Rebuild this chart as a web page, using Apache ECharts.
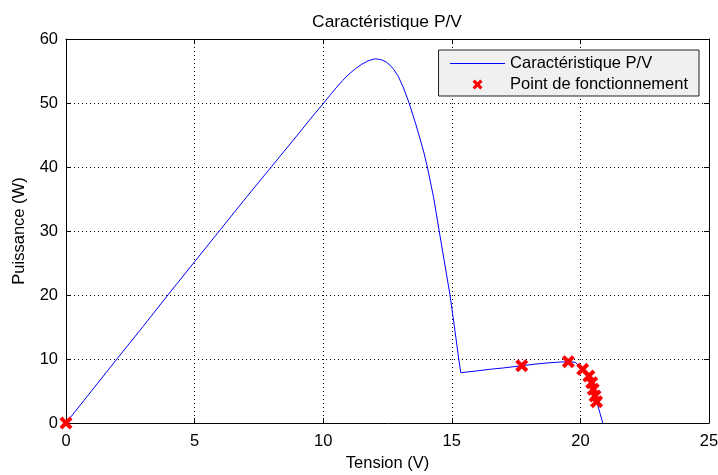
<!DOCTYPE html>
<html>
<head>
<meta charset="utf-8">
<script src="https://cdn.jsdelivr.net/npm/echarts@6/dist/echarts.min.js"></script>
<style>html,body{margin:0;padding:0;background:#fff;}#c{width:718px;height:475px;}</style>
</head>
<body>
<div id="c"></div>
<script>
// Caractéristique P/V curve
const curveV = [0,1,2,3,4,5,6,7,8,9,9.5,10,10.25,10.5,10.75,11,11.25,11.5,11.75,12,12.15,12.3,12.45,12.6,12.75,12.9,13.1,13.34,13.6,13.9,14.05,14.3,14.51,14.72,14.93,15.1,15.27,15.35,16,16.5,17,17.72,18.2,18.7,19.2,19.53,19.8,20.09,20.33,20.44,20.5,20.57,20.63,20.75,20.87];
const curveP = [0,5.05,10.1,15.1,20.2,25.2,30.2,35.2,40.1,45,47.5,49.9,51.15,52.35,53.5,54.5,55.35,56.05,56.6,56.9,56.85,56.7,56.4,55.9,55.2,54.3,52.6,50,46.7,42.5,40,35.1,30,25,20,15.1,10,7.86,8.15,8.4,8.6,8.95,9.18,9.38,9.52,9.58,9.48,8.4,7.34,6.3,5.27,4.22,3.33,1.7,0];
// Points de fonctionnement
const opV = [0,17.72,19.53,20.09,20.33,20.44,20.50,20.57,20.63];
const opP = [0,8.95,9.58,8.39,7.34,6.30,5.27,4.22,3.33];
const xTicks = {min:0, max:25, interval:5};
const yTicks = {min:0, max:60, interval:10};
const titleText = 'Caractéristique P/V';
const xName = 'Tension (V)';
const yName = 'Puissance (W)';
const seriesNames = ['Caractéristique P/V', 'Point de fonctionnement'];

const FONT = 'Liberation Sans, Arial, Helvetica, sans-serif';
const FS = 16.5;
const X_PATH = 'path://M-5,-2.8 L-2.8,-5 L5,2.8 L2.8,5 Z M2.8,-5 L5,-2.8 L-2.8,5 L-5,2.8 Z';
const BOUNDS = 'M0,0 L0.01,0.01 L0,0.01 Z M55,14 L54.99,13.99 L55,13.99 Z ';
const X_LEGEND = 'path://' + BOUNDS + 'M22.5,4.2 L24.7,2 L32.5,9.8 L30.3,12 Z M30.3,2 L32.5,4.2 L24.7,12 L22.5,9.8 Z';

const chart = echarts.init(document.getElementById('c'), null, {renderer:'canvas'});
const axisCommon = {
  axisLine:{show:true, onZero:false, lineStyle:{color:'#000', width:1}},
  axisTick:{show:true, inside:true, length:5, lineStyle:{color:'#000', width:1}},
};
const option = {
  animation:false,
  backgroundColor:'#fff',
  color:['#0000ff', '#ff0000'],
  textStyle:{fontFamily:FONT},
  title:{text:titleText, left:382, top:9, textAlign:'center',
    textStyle:{fontFamily:FONT, fontSize:17.4, fontWeight:'normal', color:'#000'}},
  grid:{left:66, right:9, top:39, bottom:52, show:false, outerBoundsMode:'none', containLabel:false},
  legend:{
    orient:'vertical', right:19, top:50,
    padding:[5,11,3,11], itemGap:4, itemWidth:55, itemHeight:14,
    backgroundColor:'#f0f0f0', borderColor:'#222', borderWidth:1,
    textStyle:{fontFamily:FONT, fontSize:FS, color:'#000', lineHeight:16},
    data:[{name:seriesNames[0],
            itemStyle:{color:'rgba(0,0,0,0)', borderColor:'rgba(0,0,0,0)', borderWidth:0, opacity:0},
            lineStyle:{width:1, color:'#0000ff'}},
          {name:seriesNames[1], icon:X_LEGEND}]
  },
  xAxis:[
    Object.assign({type:'value', position:'bottom', min:xTicks.min, max:xTicks.max, interval:xTicks.interval,
      name:xName, nameLocation:'middle', nameGap:31,
      nameTextStyle:{fontFamily:FONT, fontSize:FS, color:'#000'},
      axisLabel:{show:true, margin:10, fontFamily:FONT, fontSize:FS, color:'#000'},
      splitLine:{show:true, lineStyle:{color:'#000', type:[1,3], width:1}}}, axisCommon),
    Object.assign({type:'value', position:'top', min:xTicks.min, max:xTicks.max, interval:xTicks.interval,
      axisLabel:{show:false}, splitLine:{show:false}}, axisCommon)
  ],
  yAxis:[
    Object.assign({type:'value', position:'left', min:yTicks.min, max:yTicks.max, interval:yTicks.interval,
      name:yName, nameLocation:'middle', nameGap:38, nameRotate:90,
      nameTextStyle:{fontFamily:FONT, fontSize:FS, color:'#000'},
      axisLabel:{show:true, margin:8, fontFamily:FONT, fontSize:FS, color:'#000'},
      splitLine:{show:true, lineStyle:{color:'#000', type:[1,3], width:1}}}, axisCommon),
    Object.assign({type:'value', position:'right', min:yTicks.min, max:yTicks.max, interval:yTicks.interval,
      axisLabel:{show:false}, splitLine:{show:false}}, axisCommon)
  ],
  series:[
    {name:seriesNames[0], type:'line', xAxisIndex:0, yAxisIndex:0, symbol:'none', smooth:false,
      lineStyle:{color:'#0000ff', width:1}, itemStyle:{color:'#0000ff'},
      data:curveV.map((v,i)=>[v, curveP[i]]), z:3},
    {name:seriesNames[1], type:'scatter', xAxisIndex:0, yAxisIndex:0, symbol:X_PATH, symbolSize:13,
      itemStyle:{color:'#ff0000', opacity:1}, clip:false,
      data:opV.map((v,i)=>[v, opP[i]]), z:4}
  ]
};
chart.setOption(option);
</script>
</body>
</html>
